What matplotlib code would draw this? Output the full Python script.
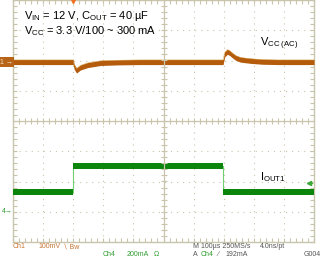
import numpy as np
import matplotlib
matplotlib.use("Agg")
import matplotlib.pyplot as plt

plt.rcParams["font.family"] = ["Liberation Sans", "DejaVu Sans"]
plt.rcParams["mathtext.fontset"] = "custom"
plt.rcParams["mathtext.rm"] = "Liberation Sans"
plt.rcParams["mathtext.it"] = "Liberation Sans"

# scope settings
T_DIV = 100.0       # us / div
CH1_DIV = 100.0     # mV / div
CH4_DIV = 200.0     # mA / div
CH1_POS = 1.95      # div, ch1 marker
CH4_POS = -3.0      # div, ch4 ground marker
TRIG_T = -300.0     # us
TRIG_LEVEL = 192.0  # mA

# Ch1: Vcc (AC coupled), mV deviation
vcc_t = [-500, -300, -297, -289, -276, -252, -209, -150, -80, 0, 198, 203, 212,
         220, 228, 240, 256, 289, 330, 380, 500]
vcc_mv = [0, 0, -15, -28, -18, -10, -3, -1, 0, 0, 0, 25, 34,
          30, 23, 14, 8, 4, 1, 0, 0]

# Ch4: Iout1, mA
iout_t = [-500, -300, -300, 199, 199, 500]
iout_ma = [130, 130, 300, 300, 130, 130]

ORANGE = "#b45c0c"
GREEN = "#0b850b"
GRIDC = "#c9c5ad"

W, H = 323, 257
fig = plt.figure(figsize=(W / 100, H / 100), dpi=100)
fig.patch.set_facecolor("white")
rect = [13 / W, 15 / H, 301 / W, 242 / H]
ax = fig.add_axes(rect)
ax.set_xlim(-5, 5)
ax.set_ylim(-4, 4)

# dotted graticule
for k in range(-4, 5):
    if k != 0:
        ax.axvline(k, color=GRIDC, lw=0.8, ls=(0, (1.0, 4.45)), zorder=1)
for k in range(-3, 4):
    if k != 0:
        ax.axhline(k, color=GRIDC, lw=0.8, ls=(0, (1.0, 4.45)), zorder=1)

minor = np.arange(-5, 5.01, 0.2)
minor_y = np.arange(-4, 4.01, 0.2)
ax.set_xticks([])
ax.set_yticks([])
ax.set_xticks(minor, minor=True)
ax.set_yticks(minor_y, minor=True)
ax.tick_params(which="minor", direction="in", length=3, width=0.8, color=GRIDC,
               top=True, right=True, labelbottom=False, labelleft=False)
for s in ax.spines.values():
    s.set_color(GRIDC)
    s.set_linewidth(1.0)

# center crosshair
ax2 = fig.add_axes(rect, facecolor="none")
ax2.set_xlim(-5, 5)
ax2.set_ylim(-4, 4)
ax2.spines["left"].set_position(("data", 0))
ax2.spines["bottom"].set_position(("data", 0))
ax2.spines["top"].set_visible(False)
ax2.spines["right"].set_visible(False)
for s in ("left", "bottom"):
    ax2.spines[s].set_color(GRIDC)
    ax2.spines[s].set_linewidth(0.9)
ax2.set_xticks([])
ax2.set_yticks([])
ax2.set_xticks(minor[1:-1], minor=True)
ax2.set_yticks(minor_y[1:-1], minor=True)
ax2.tick_params(which="minor", direction="inout", length=5, width=0.8, color=GRIDC,
                labelbottom=False, labelleft=False)

# traces
t1 = np.array(vcc_t) / T_DIV
y1 = np.array(vcc_mv) / CH1_DIV + CH1_POS
h1 = 0.085
ax.fill_between(t1, y1 - h1, y1 + h1, color=ORANGE, lw=0, zorder=3)
ax.plot(t1, y1 + h1 * 0.8, color="#d8a040", lw=0.4, alpha=0.8, zorder=3)

t4 = np.array(iout_t) / T_DIV
y4 = np.array(iout_ma) / CH4_DIV + CH4_POS
h4 = 0.1
ax.plot(t4, y4, color="#6fd06f", lw=0.8, zorder=3)
ax.fill_between(t4, y4 - h4, y4 + h4, color=GREEN, lw=0, zorder=4)

# trigger markers
ax.plot([TRIG_T / T_DIV], [4], marker="v", color="#f07020", ms=5, clip_on=False, zorder=6)
ax.plot([4.82], [TRIG_LEVEL / CH4_DIV + CH4_POS], marker="<", color="#3aa83a", ms=3,
        clip_on=False, zorder=6)
ax.plot([4.82, 4.95], [TRIG_LEVEL / CH4_DIV + CH4_POS] * 2, color="#3aa83a", lw=0.8, zorder=6)

# channel markers on the left
ax.text(-5.0, CH1_POS, "1 \u2192", color="#f4e0c0", fontsize=5, ha="right", va="center",
        bbox=dict(boxstyle="square,pad=0.2", fc="#b86418", ec="none"), clip_on=False)
ax.text(-5.02, CH4_POS, "4\u2192", color="#2e9e2e", fontsize=5, ha="right", va="center",
        clip_on=False)

# labels
ax.text(-4.62, 3.36, r"V$_{\mathrm{IN}}$ = 12 V, C$_{\mathrm{OUT}}$ = 40 µF", fontsize=8,
        va="baseline", zorder=7)
ax.text(-4.62, 2.86, r"V$_{\mathrm{CC}}$ = 3.3 V/100 ~ 300 mA", fontsize=8,
        va="baseline", zorder=7)
ax.text(3.22, 2.48, r"V$_{\mathrm{CC\ (AC)}}$", fontsize=8, va="baseline", zorder=7)
ax.text(3.2, -1.95, r"I$_{\mathrm{OUT1}}$", fontsize=8, va="baseline", zorder=7)

# status line
C1T = "#c87533"
C4T = "#2e9e2e"
GRY = "#555555"
status = [
    (13, 247, "Ch1", C1T, "left"),
    (38, 247, "100mV", C1T, "left"),
    (63, 247, "\u2216 Bw", C1T, "left"),
    (103, 254, "Ch4", C4T, "left"),
    (127, 254, "200mA", C4T, "left"),
    (154, 254, "\u03a9", C4T, "left"),
    (193, 247, "M 100µs 250MS/s", GRY, "left"),
    (260, 247, "4.0ns/pt", GRY, "left"),
    (193, 254, "A", GRY, "left"),
    (201, 254, "Ch4", C4T, "left"),
    (217, 254, "\u2215", GRY, "left"),
    (225, 254, "192mA", GRY, "left"),
    (321, 254, "G004", GRY, "right"),
]
for x, y, s, c, ha in status:
    fig.text(x / W, 1 - y / H, s, fontsize=5, color=c, ha=ha, va="center")

fig.savefig("out.png", dpi=100, facecolor="white")
